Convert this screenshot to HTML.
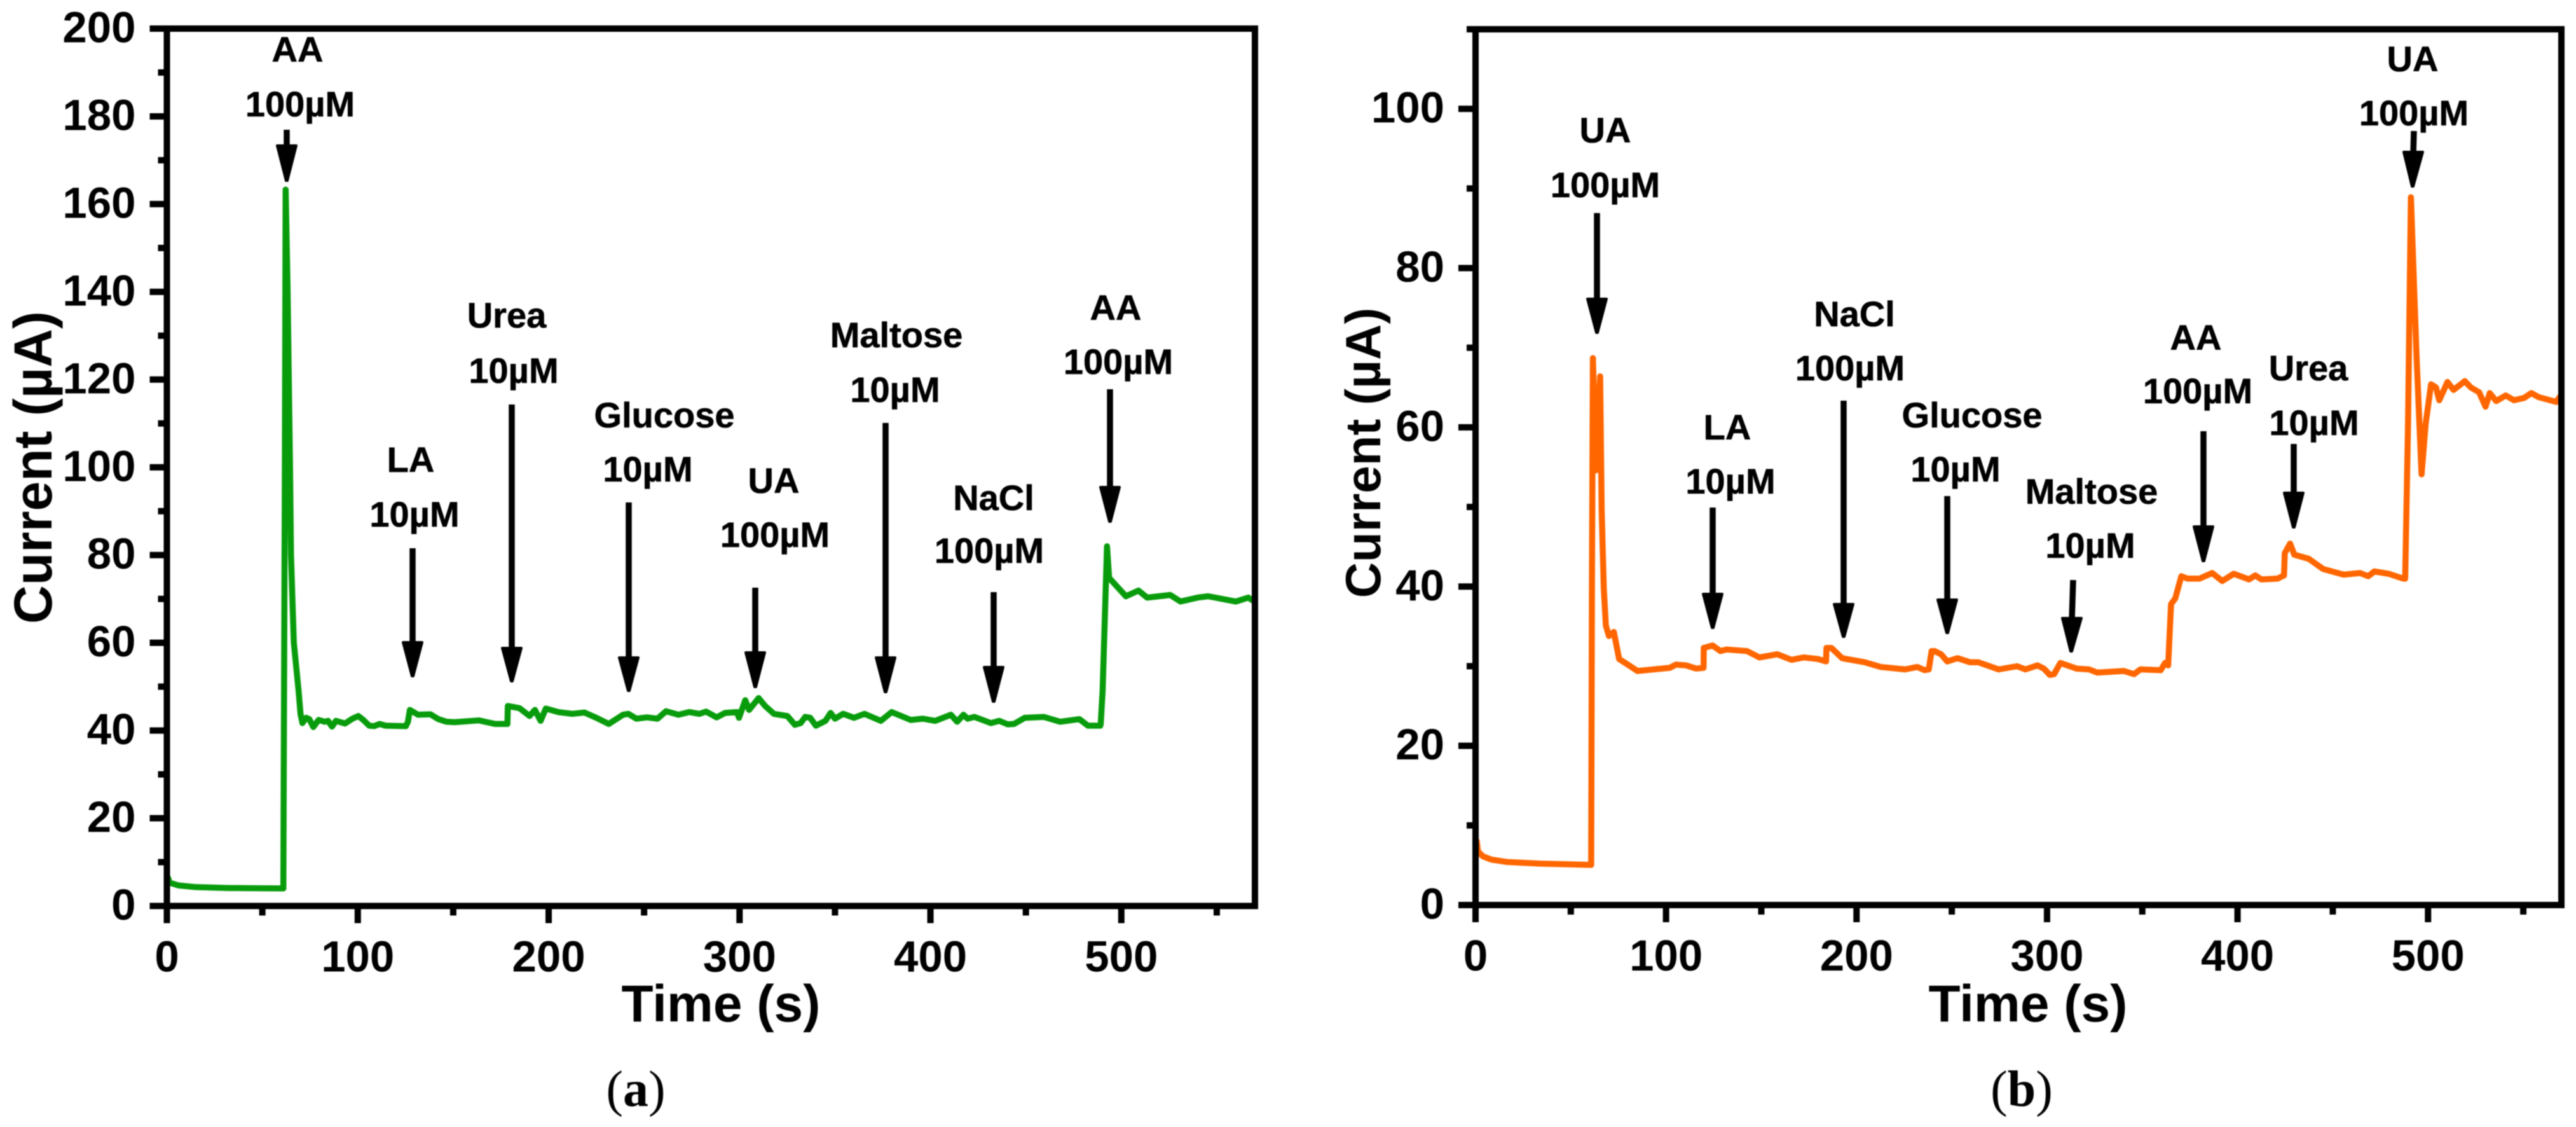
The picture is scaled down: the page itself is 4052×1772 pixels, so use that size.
<!DOCTYPE html>
<html lang="en">
<head>
<meta charset="utf-8">
<title>Amperometric selectivity responses</title>
<style>
html,body{margin:0;padding:0;background:#fff;}
svg{display:block;filter:blur(0.9px);}
text{font-family:"Liberation Sans",Arial,sans-serif;font-weight:700;fill:#000;}
.note{font-size:56px;text-anchor:middle;stroke:#000;stroke-width:.6px;}
.cap{font-family:"Liberation Serif","Times New Roman",serif;font-size:80px;font-weight:400;text-anchor:middle;}
.shaft{stroke:#000;stroke-width:9.5;fill:none;}
.head{fill:#000;stroke:#000;stroke-width:4;stroke-linejoin:round;}
</style>
</head>
<body>
<svg id="figure" xmlns="http://www.w3.org/2000/svg" width="4052" height="1772" viewBox="0 0 4052 1772">
<rect x="0" y="0" width="4052" height="1772" fill="#fff"/>
<g id="panel-a"></g>
<g id="panel-b"></g>

<g>
<g><text class="note" x="468" y="97">AA</text><text class="note" x="472" y="183">100µM</text><path class="shaft" d="M451 204V232"/><polygon class="head" points="436,229 466,229 452,284 450,284"/></g>
<g><text class="note" x="646" y="742">LA</text><text class="note" x="652" y="828">10µM</text><path class="shaft" d="M649 862V1012"/><polygon class="head" points="634,1010 664,1010 650,1063 648,1063"/></g>
<g><text class="note" x="797" y="515">Urea</text><text class="note" x="808" y="602">10µM</text><path class="shaft" d="M805 636V1020"/><polygon class="head" points="790,1019 820,1019 806,1071 804,1071"/></g>
<g><text class="note" x="1045" y="672">Glucose</text><text class="note" x="1019" y="757">10µM</text><path class="shaft" d="M989 790V1036"/><polygon class="head" points="974,1034 1004,1034 990,1086 988,1086"/></g>
<g><text class="note" x="1217" y="775">UA</text><text class="note" x="1219" y="860">100µM</text><path class="shaft" d="M1188 924V1028"/><polygon class="head" points="1173,1026 1203,1026 1189,1080 1187,1080"/></g>
<g><text class="note" x="1410" y="546">Maltose</text><text class="note" x="1408" y="632">10µM</text><path class="shaft" d="M1393 665V1036"/><polygon class="head" points="1378,1034 1408,1034 1394,1088 1392,1088"/></g>
<g><text class="note" x="1563" y="802">NaCl</text><text class="note" x="1556" y="885">100µM</text><path class="shaft" d="M1563 931V1050"/><polygon class="head" points="1548,1049 1578,1049 1564,1103 1562,1103"/></g>
<g><text class="note" x="1755" y="503">AA</text><text class="note" x="1759" y="588">100µM</text><path class="shaft" d="M1746 612V768"/><polygon class="head" points="1731,766 1761,766 1747,820 1745,820"/></g>
</g>

<g>
<g><text class="note" x="2525" y="224">UA</text><text class="note" x="2525" y="310">100µM</text><path class="shaft" d="M2512 335V472"/><polygon class="head" points="2497,470 2527,470 2513,523 2511,523"/></g>
<g><text class="note" x="2717" y="691">LA</text><text class="note" x="2722" y="776">10µM</text><path class="shaft" d="M2694 798V936"/><polygon class="head" points="2679,934 2709,934 2695,987 2693,987"/></g>
<g><text class="note" x="2917" y="513">NaCl</text><text class="note" x="2910" y="598">100µM</text><path class="shaft" d="M2900 630V952"/><polygon class="head" points="2885,950 2915,950 2901,1001 2899,1001"/></g>
<g><text class="note" x="3102" y="672">Glucose</text><text class="note" x="3076" y="757">10µM</text><path class="shaft" d="M3063 780V945"/><polygon class="head" points="3048,943 3078,943 3064,995 3062,995"/></g>
<g><text class="note" x="3290" y="792">Maltose</text><text class="note" x="3288" y="877">10µM</text><path class="shaft" d="M3261 912L3259 974"/><polygon class="head" points="3244,972 3274,972 3259,1024 3257,1024"/></g>
<g><text class="note" x="3454" y="550">AA</text><text class="note" x="3457" y="634">100µM</text><path class="shaft" d="M3466 678V830"/><polygon class="head" points="3451,828 3481,828 3467,882 3465,882"/></g>
<g><text class="note" x="3631" y="598">Urea</text><text class="note" x="3640" y="684">10µM</text><path class="shaft" d="M3608 698V778"/><polygon class="head" points="3593,775 3623,775 3609,829 3607,829"/></g>
<g><text class="note" x="3795" y="112">UA</text><text class="note" x="3797" y="197">100µM</text><path class="shaft" d="M3797 206L3796 242"/><polygon class="head" points="3781,239 3811,239 3796,293 3794,293"/></g>
</g>

<text class="cap" x="1000" y="1739">(<tspan font-weight="700">a</tspan>)</text>
<text class="cap" x="3180" y="1739">(<tspan font-weight="700">b</tspan>)</text>
</svg>

<script>
const xMajorTicks = [0, 100, 200, 300, 400, 500];
const xMinorTicks = [50, 150, 250, 350, 450, 550];
const yMajorTicksA = [0, 20, 40, 60, 80, 100, 120, 140, 160, 180, 200];
const yMinorTicksA = [10, 30, 50, 70, 90, 110, 130, 150, 170, 190];
const yMajorTicksB = [0, 20, 40, 60, 80, 100];
const yMinorTicksB = [10, 30, 50, 70, 90, 110];

const timeA = [0.5,1.5,6,15,32,61,61.8,62.2,63.2,64.5,65,66.5,69,70,71,73,74.6,76.7,79.5,82.7,84.4,86.5,88.6,93.3,97.2,100.3,102.9,106,108.6,111.4,114.6,125.2,126.3,127.3,131.6,138,142.2,146.5,150.7,163.5,172,178.4,178.6,184.7,190,192.8,195.8,198.5,205,212.4,218.7,225,231.5,239,241.7,246,251.5,257,261.5,268,273.6,279,282.5,288,292.4,298.6,299.7,303,305,310,313.4,318,325,329,332,334.4,337,340,345,347.7,350,354.3,360,365.4,374,379.7,389.7,396,402.5,410.7,414,417.3,419.5,423,431.7,436,440.5,443.8,449.4,459.3,468,478,482.5,489,489.2,490.2,492.5,493.6,502.4,509,513.5,525.6,531,540,545.5,560,566.5,569.8];
const currentA = [6.5,5.3,4.7,4.3,4.1,4,100,163.3,141,100,80,60,49,43.8,41.7,42.9,42.6,40.8,42.4,42,42.2,40.9,42.2,41.6,42.7,43.3,42.4,41.1,41,41.5,41.1,41,42,44.7,43.6,43.7,42.6,42,41.9,42.3,41.5,41.5,45.6,45.1,43.3,44.7,42.2,45,44.2,43.8,44.1,42.9,41.5,43.6,43.8,42.7,43,42.7,44.4,43.6,44.2,43.8,44.3,43,44,44.2,42.9,46.9,44.7,47.4,45.6,43.8,43.3,41.3,41.7,43.1,42.9,41.1,42.2,44,42.7,43.8,42.9,43.8,42.2,44.2,42.4,42.7,42.2,43.6,42,43.6,42.7,43.1,41.7,42.2,41.4,41.5,42.9,43.1,42,42.6,41.1,41.1,41.5,49,82,74.8,70.6,71.9,70.3,70.9,69.4,70.3,70.6,69.4,70.3,69.4,70.6];

const timeB = [0.6,1.3,4,8.3,16.8,33.9,60.7,61.1,61.6,63.2,65.4,66.2,67.3,68.4,70,72.6,75.4,78.6,85,93.5,102,105.2,110.5,115.8,119.7,119.8,124.4,128.6,131.8,142.5,149,158.4,165.9,172.3,179.7,184,184.2,186.8,192.5,204.2,212.7,225.5,231.9,235.7,237.9,239.4,241,244.4,247.6,253,259.5,263.8,274.6,284.3,288.6,295,298.3,301.5,303.7,307,315.5,322,326.3,340.3,345.7,349,359.7,362,363.6,365.1,367.3,370.5,373.8,380,386.7,392,398,406,409.3,412.5,421,424.4,424.8,427.6,429.8,437.3,445,455.7,464.3,468.6,471.8,479.4,487,488,489.5,491,494,496.6,498.8,501.6,504.2,505.9,510.2,513.4,519.3,522.5,526.8,530.2,532.4,535.8,540.8,545.1,550.5,554.2,558,567.3,570];
const currentB = [8.05,6.7,6.1,5.7,5.4,5.2,5.04,40,68.7,54.6,66.4,49.6,39.8,35.1,33.8,34.3,30.9,30.4,29.4,29.6,29.8,30.2,30.1,29.7,29.8,32.3,32.6,31.9,32.1,31.9,31.1,31.5,30.8,31.1,30.9,30.6,32.3,32.3,31,30.5,29.9,29.6,29.9,29.5,29.6,31.9,31.9,31.5,30.6,31,30.5,30.5,29.6,30,29.6,30.1,29.7,28.9,29,30.4,29.7,29.6,29.2,29.4,29,29.6,29.5,30.4,30.1,37.8,38.5,41.3,41,41,41.7,40.7,41.6,40.9,41.4,40.9,41,41.4,44.2,45.4,44,43.5,42.2,41.5,41.7,41.3,41.9,41.6,41,41,60.5,88.9,68.7,54.1,60.5,65.4,65,63.4,65.7,64.7,65.8,65,64.4,62.6,64.3,63.3,64,63.4,63.7,64.3,63.8,63.2,64.1];

const SVG_NS = 'http://www.w3.org/2000/svg';

function linearScale(domainLow, domainHigh, rangeLow, rangeHigh) {
  return function (value) {
    return rangeLow + (value - domainLow) * (rangeHigh - rangeLow) / (domainHigh - domainLow);
  };
}

function make(tag, parent, attrs, content) {
  const node = document.createElementNS(SVG_NS, tag);
  for (const key in attrs) node.setAttribute(key, attrs[key]);
  if (content !== undefined) node.textContent = content;
  parent.appendChild(node);
  return node;
}

function drawPanel(parent, opts) {
  const xScale = linearScale(0, 570, opts.left, opts.right);
  const yScale = linearScale(0, opts.yMax, opts.bottom, opts.top);

  const points = opts.time.map(function (t, i) {
    return xScale(t).toFixed(1) + ',' + yScale(opts.current[i]).toFixed(1);
  }).join(' ');
  const line = make('polyline', parent, {points: points, fill: 'none', stroke: opts.color, 'stroke-width': 9.5, 'stroke-linejoin': 'round', 'stroke-linecap': 'round'});
  
  

  const frame = make('rect', parent, {x: opts.left, y: opts.top, width: opts.right - opts.left, height: opts.bottom - opts.top, fill: 'none', stroke: '#000', 'stroke-width': 10});
  
  

  opts.yMajor.forEach(function (value) {
    const tick = make('line', parent, {x1: opts.left - 27, x2: opts.left, y1: yScale(value), y2: yScale(value), stroke: '#000', 'stroke-width': 10});
    
    
    const label = make('text', parent, {x: opts.left - 49, y: yScale(value) + 21.5, 'font-size': 69, 'text-anchor': 'end'}, String(value));
    
    
  });

  opts.yMinor.forEach(function (value) {
    const tick = make('line', parent, {x1: opts.left - 14, x2: opts.left, y1: yScale(value), y2: yScale(value), stroke: '#000', 'stroke-width': 10});
    
    
  });

  xMajorTicks.forEach(function (value) {
    const tick = make('line', parent, {x1: xScale(value), x2: xScale(value), y1: opts.bottom, y2: opts.bottom + 27, stroke: '#000', 'stroke-width': 10});
    
    
    const label = make('text', parent, {x: xScale(value), y: opts.bottom + 103, 'font-size': 69, 'text-anchor': 'middle'}, String(value));
    
    
  });

  xMinorTicks.forEach(function (value) {
    const tick = make('line', parent, {x1: xScale(value), x2: xScale(value), y1: opts.bottom, y2: opts.bottom + 15, stroke: '#000', 'stroke-width': 10});
    
    
  });

  const xTitle = make('text', parent, {x: opts.xTitleX, y: 1606, 'font-size': 82, 'text-anchor': 'middle'}, 'Time (s)');
  
  

  const yTitle = make('text', parent, {transform: 'translate(' + opts.yTitleX + ' ' + opts.yTitleY + ') rotate(-90)', 'font-size': opts.yTitleSize, 'text-anchor': 'middle'}, 'Current (µA)');
  
  
}

drawPanel(document.getElementById('panel-a'), {
  left: 262.5, right: 1974, top: 45, bottom: 1424.5, yMax: 200,
  time: timeA, current: currentA, color: '#089c0c',
  yMajor: yMajorTicksA, yMinor: yMinorTicksA,
  xTitleX: 1134, yTitleX: 81, yTitleY: 735, yTitleSize: 84
});

drawPanel(document.getElementById('panel-b'), {
  left: 2321, right: 4029, top: 46, bottom: 1423, yMax: 110,
  time: timeB, current: currentB, color: '#ff6600',
  yMajor: yMajorTicksB, yMinor: yMinorTicksB,
  xTitleX: 3190, yTitleX: 2171, yTitleY: 712, yTitleSize: 78
});
</script>
</body>
</html>
